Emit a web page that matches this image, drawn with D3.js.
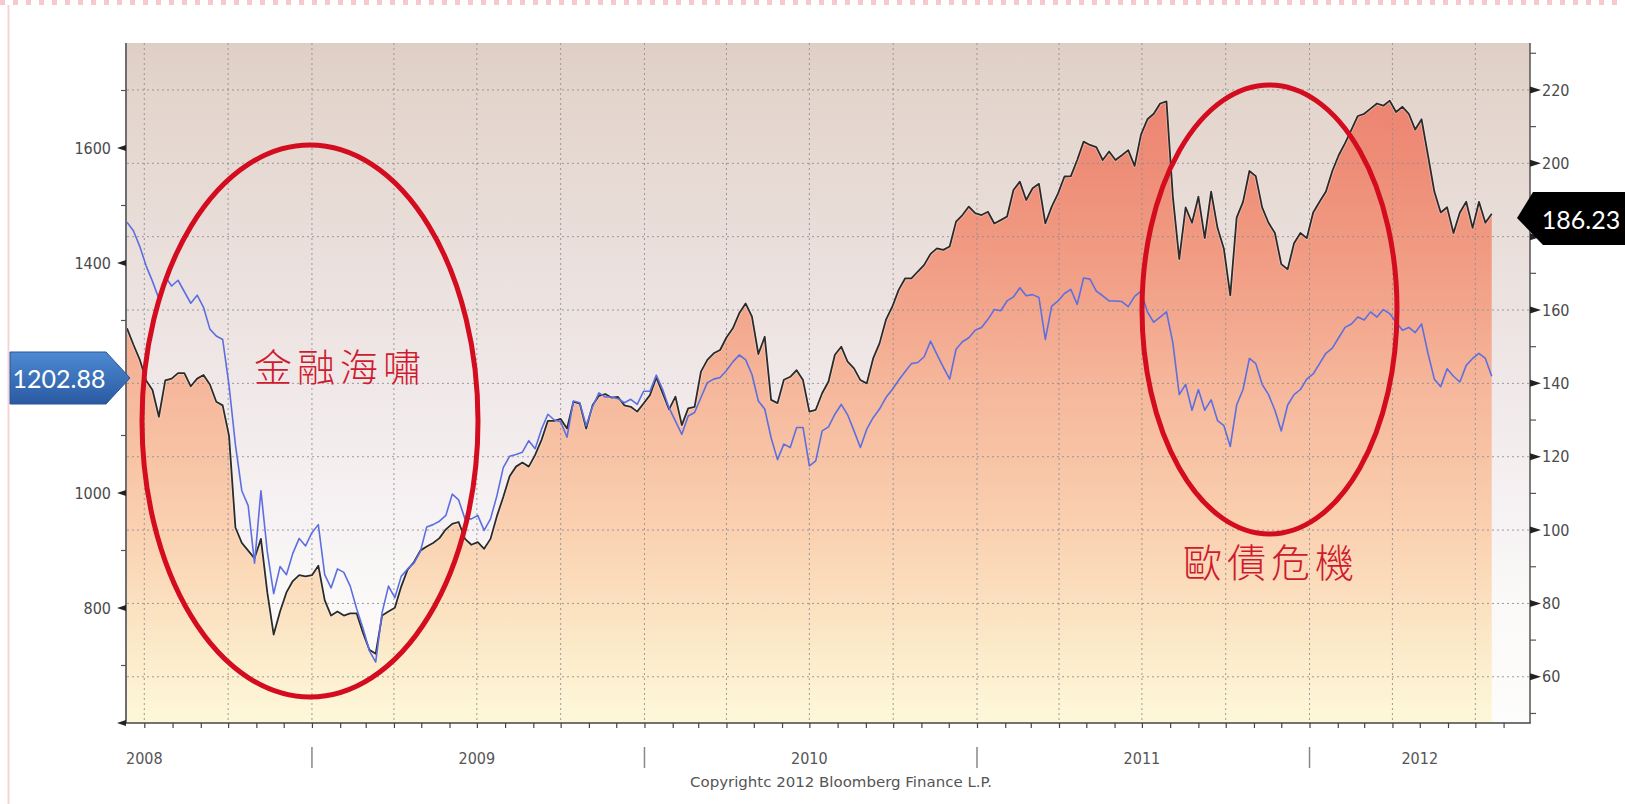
<!DOCTYPE html>
<html><head><meta charset="utf-8">
<script src="https://cdn.jsdelivr.net/npm/d3@7"></script>
<style>html,body{margin:0;padding:0;background:#fff;overflow:hidden}</style>
</head><body>
<svg id="chart" width="1625" height="804"></svg>
<script>
// ---------- data ----------
const startDate = "2008-06-12";          // weekly observations from this date
const domainStart = "2008-06-12";
const domainEnd = "2012-08-30";
// black line, right axis (last 186.23)
const blackValues = [
155,150.6,146.5,140.8,138.2,130.9,140.8,141.3,142.8,142.8,
139.2,141.3,142.3,139.7,135.0,134.0,125.7,100.7,96.5,94.4,
92.3,97.6,83.0,71.5,77.8,83.0,86.1,87.7,87.4,87.7,
90.3,80.9,76.7,77.8,76.7,77.3,77.3,72.0,67.4,66.3,
76.7,77.8,78.8,84.6,89.2,91.3,94.4,95.5,96.5,97.8,
100.2,101.7,102.2,97.6,96.0,96.7,94.9,97.6,103.8,109.0,
114.7,117.3,118.4,117.3,120.5,124.6,129.8,129.8,130.3,127.7,
135.0,134.5,127.7,134.0,136.6,137.1,136.1,136.3,134.0,
133.6,132.3,134.5,136.8,141.6,137.3,132.9,136.4,128.6,133.2,
133.6,143.2,146.4,148.2,149.1,152.5,155.0,159.1,161.8,158.2,
148.0,152.7,135.5,134.6,141.0,141.8,143.6,140.9,132.3,132.8,
137.3,140.5,147.8,150.0,145.9,144.1,140.9,140.0,146.8,150.9,
157.3,160.9,165.5,168.6,168.6,170.5,172.3,175.3,176.8,176.4,
177.3,184.1,185.9,188.2,186.4,185.9,186.8,183.6,184.5,185.5,
192.7,195.0,190.0,193.2,194.4,183.6,188.2,191.8,196.4,196.5,
200.9,205.9,205.0,204.4,200.9,203.2,200.9,
202.2,203.6,199.3,207.8,212.0,213.5,216.3,216.9,190.9,173.9,
188.0,183.8,190.9,179.6,192.3,182.4,176.7,164.0,185.2,189.5,
197.9,196.5,188.0,183.8,181.0,172.5,171.1,178.2,181.0,179.6,
186.6,189.5,192.3,197.9,202.2,205.5,209.2,212.9,213.5,214.9,
216.3,215.7,217.1,214.0,215.4,213.5,209.2,212.0,202.2,192.3,
186.6,188.0,181.0,186.6,189.5,182.4,189.5,183.8,186.23
];
// blue line, left axis (last 1202.88)
const blueValues = [
1471,1456,1429,1395,1368,1338,1376,1360,1370,1350,
1330,1344,1323,1285,1273,1267,1187,1084,1004,978,
878,1004,898,825,872,858,895,921,908,931,
945,858,835,868,862,838,799,765,726,706,
792,838,818,855,868,878,898,941,945,951,
961,998,988,955,955,961,935,955,995,1044,
1064,1067,1071,1091,1077,1111,1137,1127,1124,1097,
1160,1157,1117,1150,1174,1167,1167,1164,1157,
1163,1154,1177,1177,1205,1180,1148,1125,1102,1134,
1140,1166,1192,1198,1201,1213,1228,1240,1232,1206,
1160,1146,1096,1058,1085,1079,1114,1114,1047,1056,
1108,1115,1137,1154,1136,1108,1079,1111,1131,1146,
1166,1180,1196,1211,1225,1227,1237,1264,1241,1219,
1198,1250,1263,1270,1283,1288,1302,1319,1317,1334,
1341,1357,1343,1345,1340,1267,1325,1334,1347,1354,
1328,1374,1372,1351,1343,1334,1334,
1333,1324,1342,1351,1315,1297,1306,1315,1261,1171,
1189,1144,1180,1144,1162,1126,1117,1081,1153,1180,
1234,1225,1189,1171,1144,1108,1153,1171,1180,1198,
1207,1225,1243,1252,1270,1288,1294,1306,1301,1315,
1306,1319,1312,1297,1283,1288,1279,1294,1243,1198,
1185,1216,1203,1193,1222,1234,1243,1234,1202.88
];
const leftTicks = [600, 800, 1000, 1200, 1400, 1600];
const leftTickLabels = ["", "800", "1000", "", "1400", "1600"];   // 1200 is hidden under the last-value tag
const leftMinorTicks = [700, 900, 1100, 1300, 1500, 1700];
const rightTicks = [60, 80, 100, 120, 140, 160, 180, 200, 220];
const rightTickLabels = ["60", "80", "100", "120", "140", "160", "", "200", "220"]; // 180 hidden under tag
const rightMinorTicks = [50, 70, 90, 110, 130, 150, 170, 190, 210, 230];
const yearLabels = ["2008", "2009", "2010", "2011", "2012"];
const yearLabelDates = ["2008-07-01", "2009-07-01", "2010-07-01", "2011-07-01", "2012-05-01"];
const yearSeparators = ["2009-01-01", "2010-01-01", "2011-01-01", "2012-01-01"];
const lastBlueLabel = "1202.88";
const lastBlackLabel = "186.23";
const noteTexts = ["金融海嘯", "歐債危機"];
const copyrightText = "Copyrightc 2012 Bloomberg Finance L.P.";

// ---------- setup ----------
const svg = d3.select("#chart");
const P = {l: 127, r: 1530, t: 43, b: 723};
const parse = d3.utcParse("%Y-%m-%d");
const t0 = parse(startDate);
const dates = blackValues.map((_, i) => d3.utcDay.offset(t0, 7 * i));
const x = d3.scaleUtc().domain([parse(domainStart), parse(domainEnd)]).range([P.l, P.r]);
const yL = d3.scaleLinear().domain([600, 1782.6]).range([P.b, P.t]);
const yR = d3.scaleLinear().domain([47.4, 232.8]).range([P.b, P.t]);

const defs = svg.append("defs");
function grad(id, stops, x1, y1, x2, y2, user) {
  const g = defs.append("linearGradient").attr("id", id)
    .attr("x1", x1).attr("y1", y1).attr("x2", x2).attr("y2", y2);
  if (user) g.attr("gradientUnits", "userSpaceOnUse");
  stops.forEach(s => g.append("stop").attr("offset", s[0]).attr("stop-color", s[1]));
}
grad("bgGrad", [[0, "#dfcec5"], [0.07, "#e3d5cc"], [0.2, "#e7dad4"], [0.35, "#ebe1de"],
  [0.5, "#f0e8e8"], [0.62, "#f4eeef"], [0.72, "#f7f3f4"], [0.82, "#fbf9f8"], [1, "#fdfdfb"]], 0, P.t, 0, P.b, true);
grad("fillGrad", [[0, "#ea7e6b"], [0.07, "#ec8370"], [0.18, "#ee8d77"], [0.31, "#f19b83"],
  [0.42, "#f3aa90"], [0.52, "#f6b99d"], [0.63, "#f8c6a8"], [0.73, "#fad3b3"], [0.83, "#fbe1c0"],
  [0.91, "#fcedcc"], [1, "#fdf8da"]], 0, P.t, 0, P.b, true);
grad("blueTag", [[0, "#4d8ad2"], [1, "#2a5aa2"]], 0, 0, 0, 1, false);
defs.append("clipPath").attr("id", "plotClip").append("rect")
  .attr("x", P.l).attr("y", P.t).attr("width", P.r - P.l).attr("height", P.b - P.t);

// page decoration (pink dashed top border, left rule)
svg.append("line").attr("x1", 0).attr("x2", 1625).attr("y1", 2.5).attr("y2", 2.5)
  .attr("stroke", "#f6c9cf").attr("stroke-width", 5).attr("stroke-dasharray", "5,8");
svg.append("line").attr("x1", 8.5).attr("x2", 8.5).attr("y1", 5).attr("y2", 804)
  .attr("stroke", "#f7d3d8").attr("stroke-width", 2);

// plot background
svg.append("rect").attr("x", P.l).attr("y", P.t).attr("width", P.r - P.l).attr("height", P.b - P.t)
  .attr("fill", "url(#bgGrad)");

const plot = svg.append("g").attr("clip-path", "url(#plotClip)");

// area under black line
const area = d3.area().x((d, i) => x(dates[i])).y0(P.b).y1(d => yR(d)).curve(d3.curveLinear);
plot.append("path").datum(blackValues).attr("d", area).attr("fill", "url(#fillGrad)");

// gridlines
const gridMonths = d3.utcMonth.range(parse("2008-07-01"), parse("2012-08-01")).filter(d => d.getUTCMonth() % 3 === 0);
plot.selectAll(".vg").data(gridMonths).enter().append("line")
  .attr("x1", d => x(d)).attr("x2", d => x(d)).attr("y1", P.t).attr("y2", P.b)
  .attr("stroke", "#8d8d8d").attr("stroke-width", 1).attr("stroke-dasharray", "2,3").attr("opacity", 0.85);
plot.selectAll(".hg").data(rightTicks).enter().append("line")
  .attr("x1", P.l).attr("x2", P.r).attr("y1", d => yR(d)).attr("y2", d => yR(d))
  .attr("stroke", "#8d8d8d").attr("stroke-width", 1).attr("stroke-dasharray", "2,3").attr("opacity", 0.85);

// lines
const lineR = d3.line().x((d, i) => x(dates[i])).y(d => yR(d));
const lineL = d3.line().x((d, i) => x(dates[i])).y(d => yL(d));
plot.append("path").datum(blackValues).attr("d", lineR).attr("fill", "none")
  .attr("stroke", "#ffffff").attr("stroke-opacity", 0.35).attr("stroke-width", 3.4).attr("stroke-linejoin", "round");
plot.append("path").datum(blackValues).attr("d", lineR).attr("fill", "none")
  .attr("stroke", "#2b2b2b").attr("stroke-width", 1.8).attr("stroke-linejoin", "round");
plot.append("path").datum(blueValues).attr("d", lineL).attr("fill", "none")
  .attr("stroke", "#5d6fe0").attr("stroke-width", 1.6).attr("stroke-linejoin", "round");

// axes lines
svg.append("line").attr("x1", P.l - 1).attr("x2", P.l - 1).attr("y1", P.t).attr("y2", P.b)
  .attr("stroke", "#6e6e6e").attr("stroke-width", 2);
svg.append("line").attr("x1", P.r).attr("x2", P.r).attr("y1", P.t).attr("y2", P.b)
  .attr("stroke", "#555").attr("stroke-width", 1.5);
svg.append("line").attr("x1", P.l - 2).attr("x2", P.r + 0.75).attr("y1", P.b).attr("y2", P.b)
  .attr("stroke", "#444").attr("stroke-width", 1.5);

const tickFont = "'Liberation Sans Narrow','DejaVu Sans Condensed','Arial Narrow',sans-serif";

// left axis
const gL = svg.append("g").attr("transform", `translate(${P.l - 1},0)`)
  .call(d3.axisLeft(yL).tickValues(leftTicks).tickSize(0).tickPadding(15)
    .tickFormat((d, i) => leftTickLabels[i]));
gL.select(".domain").remove();
gL.selectAll("text").attr("font-family", tickFont).attr("font-size", 16).attr("fill", "#4a4a4a");
svg.selectAll(".lmaj").data(leftTicks).enter().append("path")
  .attr("d", d => `M${P.l - 1},${yL(d) - 3}L${P.l - 10},${yL(d)}L${P.l - 1},${yL(d) + 3}Z`).attr("fill", "#222");
svg.selectAll(".lmin").data(leftMinorTicks).enter().append("line")
  .attr("x1", P.l - 6).attr("x2", P.l - 1).attr("y1", d => yL(d)).attr("y2", d => yL(d))
  .attr("stroke", "#555").attr("stroke-width", 1.2);

// right axis
const gR = svg.append("g").attr("transform", `translate(${P.r},0)`)
  .call(d3.axisRight(yR).tickValues(rightTicks).tickSize(0).tickPadding(12)
    .tickFormat((d, i) => rightTickLabels[i]));
gR.select(".domain").remove();
gR.selectAll("text").attr("font-family", tickFont).attr("font-size", 16).attr("fill", "#4a4a4a");
svg.selectAll(".rmaj").data(rightTicks).enter().append("path")
  .attr("d", d => `M${P.r},${yR(d) - 3.5}L${P.r + 11},${yR(d)}L${P.r},${yR(d) + 3.5}Z`).attr("fill", "#222");
svg.selectAll(".rmin").data(rightMinorTicks).enter().append("line")
  .attr("x1", P.r).attr("x2", P.r + 6).attr("y1", d => yR(d)).attr("y2", d => yR(d))
  .attr("stroke", "#555").attr("stroke-width", 1.2);

// x axis month ticks
const gX = svg.append("g").attr("transform", `translate(0,${P.b})`)
  .call(d3.axisBottom(x).ticks(d3.utcMonth.every(1)).tickSize(5).tickFormat(""));
gX.select(".domain").remove();
gX.selectAll("line").attr("stroke", "#444").attr("stroke-width", 1.2);

// year labels and separators
svg.selectAll(".yl").data(yearLabels).enter().append("text")
  .attr("x", (d, i) => x(parse(yearLabelDates[i]))).attr("y", 764)
  .attr("text-anchor", "middle").attr("font-family", tickFont).attr("font-size", 16)
  .attr("fill", "#555").text(d => d);
svg.selectAll(".ys").data(yearSeparators).enter().append("line")
  .attr("x1", d => x(parse(d))).attr("x2", d => x(parse(d))).attr("y1", 747).attr("y2", 768)
  .attr("stroke", "#888").attr("stroke-width", 1.5);

svg.append("text").attr("x", 841).attr("y", 787).attr("text-anchor", "middle")
  .attr("font-family", "'DejaVu Sans',Verdana,sans-serif").attr("font-size", 13.5)
  .attr("textLength", 302).attr("lengthAdjust", "spacingAndGlyphs")
  .attr("fill", "#555").text(copyrightText);

// annotations: ellipses and notes
const redC = "#d40c1f";
svg.append("ellipse").attr("cx", 310).attr("cy", 421).attr("rx", 168).attr("ry", 276)
  .attr("fill", "none").attr("stroke", redC).attr("stroke-width", 5);
svg.append("ellipse").attr("cx", 1269.5).attr("cy", 309.5).attr("rx", 127.5).attr("ry", 224.5)
  .attr("fill", "none").attr("stroke", redC).attr("stroke-width", 5);
const cjk = "'Noto Sans CJK TC','Noto Sans CJK SC',sans-serif";
svg.append("text").attr("x", 254).attr("y", 364).attr("dominant-baseline", "central")
  .attr("font-family", cjk).attr("font-weight", 300).attr("font-size", 38).attr("letter-spacing", 5)
  .attr("fill", "#cf1b30").text(noteTexts[0]);
svg.append("text").attr("x", 1183).attr("y", 560).attr("dominant-baseline", "central")
  .attr("font-family", cjk).attr("font-weight", 300).attr("font-size", 39).attr("letter-spacing", 5)
  .attr("fill", "#cf1b30").text(noteTexts[1]);

// last value tags
svg.append("path").attr("d", "M10,352L106,352L130,378L106,404L10,404Z")
  .attr("fill", "url(#blueTag)").attr("stroke", "#2b5496").attr("stroke-width", 1);
svg.append("text").attr("x", 59).attr("y", 378).attr("text-anchor", "middle").attr("dominant-baseline", "central")
  .attr("font-family", "Lato,'Open Sans',sans-serif").attr("font-size", 25).attr("fill", "#fff").text(lastBlueLabel);
svg.append("path").attr("d", "M1517,218L1533,192L1625,192L1625,245L1543,245Z").attr("fill", "#000");
svg.append("text").attr("x", 1581).attr("y", 219).attr("text-anchor", "middle").attr("dominant-baseline", "central")
  .attr("font-family", "Lato,'Open Sans',sans-serif").attr("font-size", 25).attr("fill", "#fff").text(lastBlackLabel);
</script>
</body></html>
